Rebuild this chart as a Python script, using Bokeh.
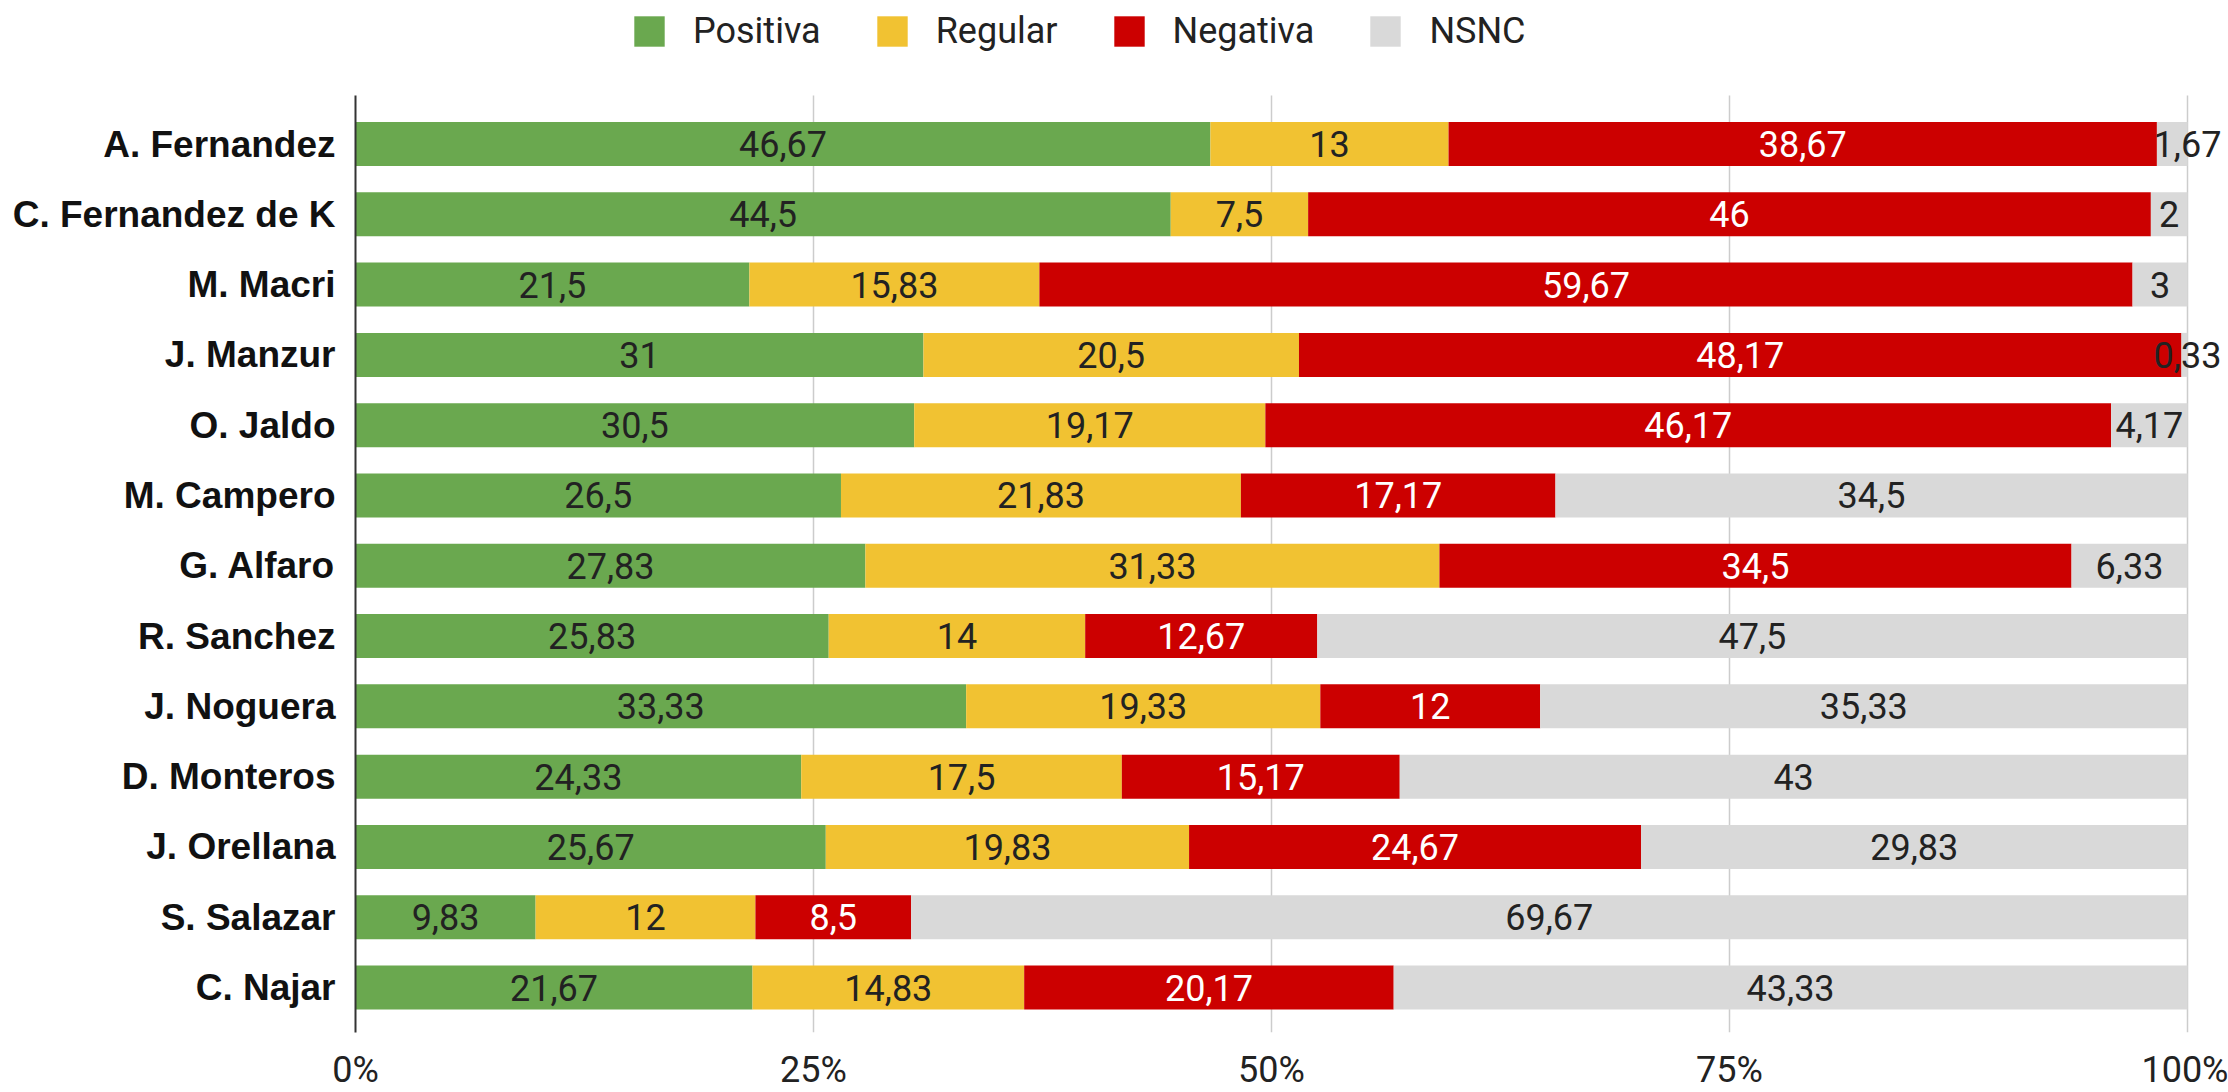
import numpy as np
from bokeh.plotting import figure
from bokeh.models import (ColumnDataSource, FixedTicker, PrintfTickFormatter,
                          Legend, LegendItem, Range1d, LabelSet, BoxAnnotation)
from bokeh.core.properties import value
from bokeh.embed import file_html
from bokeh.resources import INLINE

names = ["A. Fernandez", "C. Fernandez de K", "M. Macri", "J. Manzur", "O. Jaldo",
         "M. Campero", "G. Alfaro", "R. Sanchez", "J. Noguera", "D. Monteros",
         "J. Orellana", "S. Salazar", "C. Najar"]
series = ["Positiva", "Regular", "Negativa", "NSNC"]
positiva = [46.67, 44.5, 21.5, 31, 30.5, 26.5, 27.83, 25.83, 33.33, 24.33, 25.67, 9.83, 21.67]
regular = [13, 7.5, 15.83, 20.5, 19.17, 21.83, 31.33, 14, 19.33, 17.5, 19.83, 12, 14.83]
negativa = [38.67, 46, 59.67, 48.17, 46.17, 17.17, 34.5, 12.67, 12, 15.17, 24.67, 8.5, 20.17]
nsnc = [1.67, 2, 3, 0.33, 4.17, 34.5, 6.33, 47.5, 35.33, 43, 29.83, 69.67, 43.33]
x_ticks = [0, 25, 50, 75, 100]

colors = ["#6aa84f", "#f1c232", "#cc0000", "#d9d9d9"]
label_colors = ["#222222", "#222222", "#ffffff", "#222222"]

n = len(names)
ypos = list(range(n - 1, -1, -1))
vals = np.array([positiva, regular, negativa, nsnc], dtype=float)
totals = vals.sum(axis=0)
pct = vals / totals * 100.0

data = dict(y=ypos)
for s, row in zip(series, pct):
    data[s] = row
src = ColumnDataSource(data)

# layout (pixels)
PX_PER_100 = 1832          # 0% .. 100%
FRAME_W = 2228 - 355       # frame runs to the right edge so end labels are not clipped
PLOT_H = 937               # height of the bar area
TOP = 95                   # legend area, kept inside the frame
Y0, Y1 = -0.64, n - 1 + 0.69
units_per_px = (Y1 - Y0) / PLOT_H
FRAME_H = PLOT_H + TOP
FONT_PX = 36


def text_width(t):
    return sum((0.2 if ch == "," else 0.562) for ch in t) * FONT_PX


p = figure(frame_width=FRAME_W, frame_height=FRAME_H,
           x_range=Range1d(0, 100 * FRAME_W / PX_PER_100),
           y_range=Range1d(Y0, Y0 + FRAME_H * units_per_px),
           output_backend="svg", toolbar_location=None,
           min_border_left=355, min_border_right=0, min_border_top=0,
           min_border_bottom=0)
p.outline_line_color = None

rends = p.hbar_stack(series, y="y", height=0.626, color=colors, line_color=None, source=src)

# value labels: centred in their segment, or at the segment end if they do not fit
lx, ly, lt, lc = [], [], [], []
left = np.zeros(n)
for i in range(len(series)):
    mid = left + pct[i] / 2.0
    right = left + pct[i]
    for j in range(n):
        txt = f"{vals[i][j]:g}".replace(".", ",")
        seg_px = pct[i][j] / 100 * PX_PER_100
        lx.append(right[j] if text_width(txt) > seg_px else mid[j])
        ly.append(ypos[j])
        lt.append(txt)
        lc.append(label_colors[i])
    left = right

lsrc = ColumnDataSource(dict(x=lx, y=ly, text=lt, color=lc))
p.add_layout(LabelSet(x="x", y="y", text="text", source=lsrc, text_color="color",
                      text_align="center", text_baseline="middle",
                      text_font=value("Roboto"), text_font_size=f"{FONT_PX}px"))

# axes
p.xaxis.ticker = FixedTicker(ticks=x_ticks)
p.xaxis.formatter = PrintfTickFormatter(format="%d%%")
p.xaxis.axis_line_color = None
p.xaxis.major_tick_line_color = None
p.xaxis.minor_tick_line_color = None
p.xaxis.major_tick_out = 0
p.xaxis.major_label_text_font = "Roboto"
p.xaxis.major_label_text_font_size = "36px"
p.xaxis.major_label_text_color = "#222222"
p.xaxis.major_label_standoff = 16

p.yaxis.ticker = FixedTicker(ticks=ypos)
p.yaxis.bounds = (Y0, Y1)
p.yaxis.major_label_overrides = {y: nm for y, nm in zip(ypos, names)}
p.yaxis.axis_line_color = "#333333"
p.yaxis.axis_line_width = 2
p.yaxis.major_tick_line_color = None
p.yaxis.minor_tick_line_color = None
p.yaxis.major_tick_out = 0
p.yaxis.major_label_text_font = "Liberation Sans"
p.yaxis.major_label_text_font_style = "bold"
p.yaxis.major_label_text_font_size = "37px"
p.yaxis.major_label_text_color = "#111111"
p.yaxis.major_label_standoff = 20

grid = p.xgrid[0]
grid.ticker = FixedTicker(ticks=x_ticks)
grid.grid_line_color = "#cccccc"
grid.grid_line_width = 1.5
p.ygrid.grid_line_color = None
if "cross_bounds" in grid.properties():
    grid.cross_bounds = (Y0, Y1)
else:
    p.add_layout(BoxAnnotation(bottom=Y1, fill_color="#ffffff", fill_alpha=1.0,
                               line_color=None, level="underlay"))

legend = Legend(items=[LegendItem(label=s, renderers=[r]) for s, r in zip(series, rends)],
                orientation="horizontal", location=(275, FRAME_H - 52),
                glyph_width=38, glyph_height=38, label_standoff=25, spacing=52,
                padding=0, margin=0, border_line_color=None, background_fill_alpha=0,
                label_text_font="Roboto", label_text_font_size="36px",
                label_text_color="#222222", label_height=38)
p.add_layout(legend)

open("out.html", "w").write(file_html(p, INLINE))
